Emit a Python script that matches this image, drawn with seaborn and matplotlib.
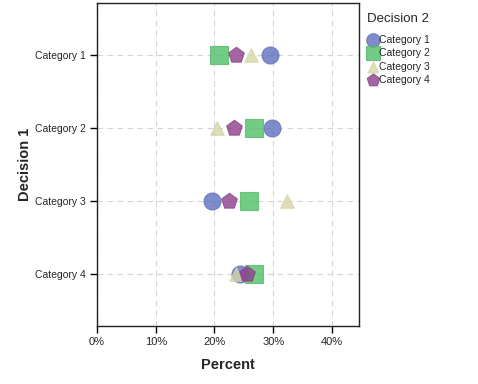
import pandas as pd
import numpy as np
import matplotlib.pyplot as plt
import seaborn as sns

# data (percent)
decision1 = ["Category 1", "Category 2", "Category 3", "Category 4"]
decision2 = ["Category 1", "Category 2", "Category 3", "Category 4"]
pct_cat1 = [29.5, 29.8, 19.6, 24.4]
pct_cat2 = [20.8, 26.7, 25.8, 26.8]
pct_cat3 = [26.3, 20.4, 32.4, 23.6]
pct_cat4 = [23.7, 23.4, 22.5, 25.6]
x_ticks = [0, 10, 20, 30, 40]

rows = []
for d2, vals in zip(decision2, [pct_cat1, pct_cat2, pct_cat3, pct_cat4]):
    for d1, v in zip(decision1, vals):
        rows.append({"Decision 1": d1, "Decision 2": d2, "Percent": v})
df = pd.DataFrame(rows)

sns.set_style("white")
plt.rcParams["font.family"] = ["Liberation Sans", "DejaVu Sans"]

fig = plt.figure(figsize=(4.78, 3.84), dpi=100)
ax = fig.add_axes([0.203, 0.151, 0.548, 0.841])

palette = {"Category 1": "#5f6fbf", "Category 2": "#4fc067",
           "Category 3": "#d6d6a6", "Category 4": "#8e3f8c"}
markers = {"Category 1": "o", "Category 2": "s",
           "Category 3": "^", "Category 4": "p"}
sizes = {"Category 1": 150, "Category 2": 150, "Category 3": 95, "Category 4": 140}

for d2 in decision2:
    sub = df[df["Decision 2"] == d2]
    sns.scatterplot(data=sub, x="Percent", y="Decision 1", marker=markers[d2],
                    color=palette[d2], s=sizes[d2], alpha=0.8,
                    edgecolor=sns.desaturate(palette[d2], 0.9), linewidth=0.8,
                    label=d2, ax=ax, zorder=3)

ax.set_xlim(0, 44.6)
ax.set_ylim(3.72, -0.72)
ax.set_xticks(x_ticks)
ax.set_xticklabels([f"{t}%" for t in x_ticks], fontsize=8)
ax.set_yticks(range(len(decision1)))
ax.set_yticklabels(decision1, fontsize=7.5)
ax.grid(True, linestyle=(0, (5, 4)), color="#d4d4d4", linewidth=0.8)
ax.tick_params(axis="both", direction="out", length=5, width=1, color="black",
               bottom=True, left=True, pad=3)
for sp in ax.spines.values():
    sp.set_color("#222222")
    sp.set_linewidth(1)

ax.set_xlabel("Percent", fontsize=10.5, fontweight="bold", labelpad=8)
ax.set_ylabel("Decision 1", fontsize=10.5, fontweight="bold", labelpad=2)

leg = ax.legend(title="Decision 2", loc="upper left", bbox_to_anchor=(1.0, 0.995),
                frameon=False, fontsize=7.5, title_fontsize=9.5,
                handletextpad=0.1, borderaxespad=0.4, labelspacing=0.33,
                handlelength=1.0, markerscale=0.8)
leg._legend_box.align = "left"
leg._legend_box.sep = 7

fig.savefig("out.png", dpi=100)
